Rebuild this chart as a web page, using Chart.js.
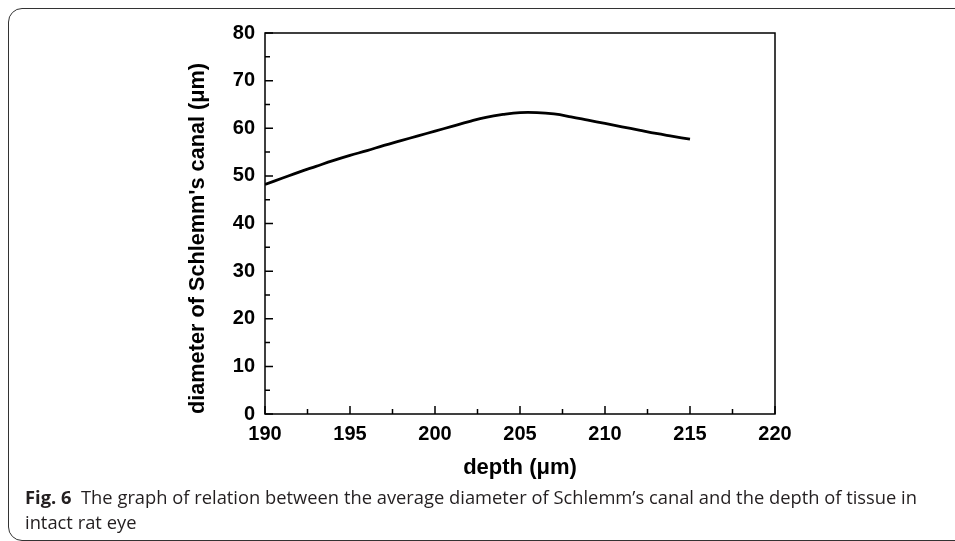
<!DOCTYPE html>
<html>
<head>
<meta charset="utf-8">
<script src="https://cdn.jsdelivr.net/npm/chart.js@4/dist/chart.umd.min.js"></script>
<style>
  html, body { margin:0; padding:0; background:#fff; width:955px; height:541px; overflow:hidden; }
  #frame { position:absolute; left:8px; top:8px; width:980px; height:533px; border:1px solid #333; border-radius:14px; box-sizing:border-box; }
  #wrap { position:absolute; left:0; top:0; width:955px; height:541px; }
  #caption { position:absolute; left:25px; top:485px; font-family:"Open Sans", sans-serif; font-size:18px; line-height:25px; color:#231f20; white-space:nowrap; transform-origin:0 0; }
  #caption b { font-weight:700; color:#231f20; }
</style>
</head>
<body>
<div id="frame"></div>
<div id="wrap"><canvas id="c" width="955" height="541"></canvas></div>
<div id="caption"><div id="l1"><b>Fig. 6</b>&nbsp; The graph of relation between the average diameter of Schlemm’s canal and the depth of tissue in</div><div id="l2">intact rat eye</div></div>
<script>
// ---- data ----
const depth    = [190,191,192,193,194,195,196,197,198,199,200,201,202,203,204,205,206,207,208,209,210,211,212,213,214,215];
const diameter = [48.2,49.5,50.8,52.0,53.2,54.3,55.3,56.4,57.4,58.4,59.4,60.4,61.4,62.3,62.9,63.3,63.3,63.0,62.4,61.7,61.0,60.3,59.6,58.9,58.3,57.7];
const xTicks      = [190,195,200,205,210,215,220];
const xMinorTicks = [192.5,197.5,202.5,207.5,212.5,217.5];
const yTicks      = [0,10,20,30,40,50,60,70,80];
const yMinorTicks = [5,15,25,35,45,55,65,75];
const xTitle = 'depth (\u03bcm)';
const yTitle = "diameter of Schlemm's canal (\u03bcm)";

const FONT = '"Liberation Sans", Arial, sans-serif';

const framePlugin = {
  id: 'frameTicks',
  afterDatasetsDraw(chart) {
    const {ctx, chartArea: a, scales: {x, y}} = chart;
    ctx.save();
    ctx.strokeStyle = '#000';
    ctx.lineWidth = 1.5;
    ctx.strokeRect(a.left, a.top, a.right - a.left, a.bottom - a.top);
    ctx.beginPath();
    xTicks.forEach(v => { const px = x.getPixelForValue(v); ctx.moveTo(px, a.bottom); ctx.lineTo(px, a.bottom - 8); });
    xMinorTicks.forEach(v => { const px = x.getPixelForValue(v); ctx.moveTo(px, a.bottom); ctx.lineTo(px, a.bottom - 5); });
    yTicks.forEach(v => { const py = y.getPixelForValue(v); ctx.moveTo(a.left, py); ctx.lineTo(a.left + 8, py); });
    yMinorTicks.forEach(v => { const py = y.getPixelForValue(v); ctx.moveTo(a.left, py); ctx.lineTo(a.left + 5, py); });
    ctx.stroke();
    ctx.restore();
  }
};

new Chart(document.getElementById('c'), {
  type: 'line',
  data: {
    datasets: [{
      data: depth.map((d, i) => ({x: d, y: diameter[i]})),
      borderColor: '#000',
      borderWidth: 2.8,
      pointRadius: 0,
      tension: 0.4,
      fill: false
    }]
  },
  options: {
    responsive: false,
    animation: false,
    events: [],
    layout: { padding: { left: 175, right: 180, top: 33, bottom: 57 } },
    plugins: { legend: { display: false }, tooltip: { enabled: false } },
    scales: {
      x: {
        type: 'linear', min: 190, max: 220,
        afterBuildTicks: s => { s.ticks = xTicks.map(v => ({value: v})); },
        afterFit: s => { s.height = 70; },
        grid: { display: false, drawTicks: false },
        border: { display: false },
        ticks: { padding: 8, color: '#000', font: { family: FONT, size: 20, weight: 'bold' }, maxRotation: 0 },
        title: { display: true, text: xTitle, color: '#000', font: { family: FONT, size: 22, weight: 'bold' }, padding: { top: 10, bottom: 3 } }
      },
      y: {
        type: 'linear', min: 0, max: 80,
        afterBuildTicks: s => { s.ticks = yTicks.map(v => ({value: v})); },
        afterFit: s => { s.width = 90; },
        grid: { display: false, drawTicks: false },
        border: { display: false },
        ticks: { padding: 10, color: '#000', font: { family: FONT, size: 20, weight: 'bold' } },
        title: { display: true, align: 'start', text: yTitle, color: '#000', font: { family: FONT, size: 21.7, weight: 'bold' }, padding: { top: 10, bottom: 0 } }
      }
    }
  },
  plugins: [framePlugin]
});

// fit caption line width to reference
(function(){
  const cap = document.getElementById('caption');
  const l1 = document.getElementById('l1');
  const w = l1.getBoundingClientRect().width;
  const target = 892;
  const s = target / w;
  cap.style.transform = 'scaleX(' + s + ')';
})();
</script>
</body>
</html>
